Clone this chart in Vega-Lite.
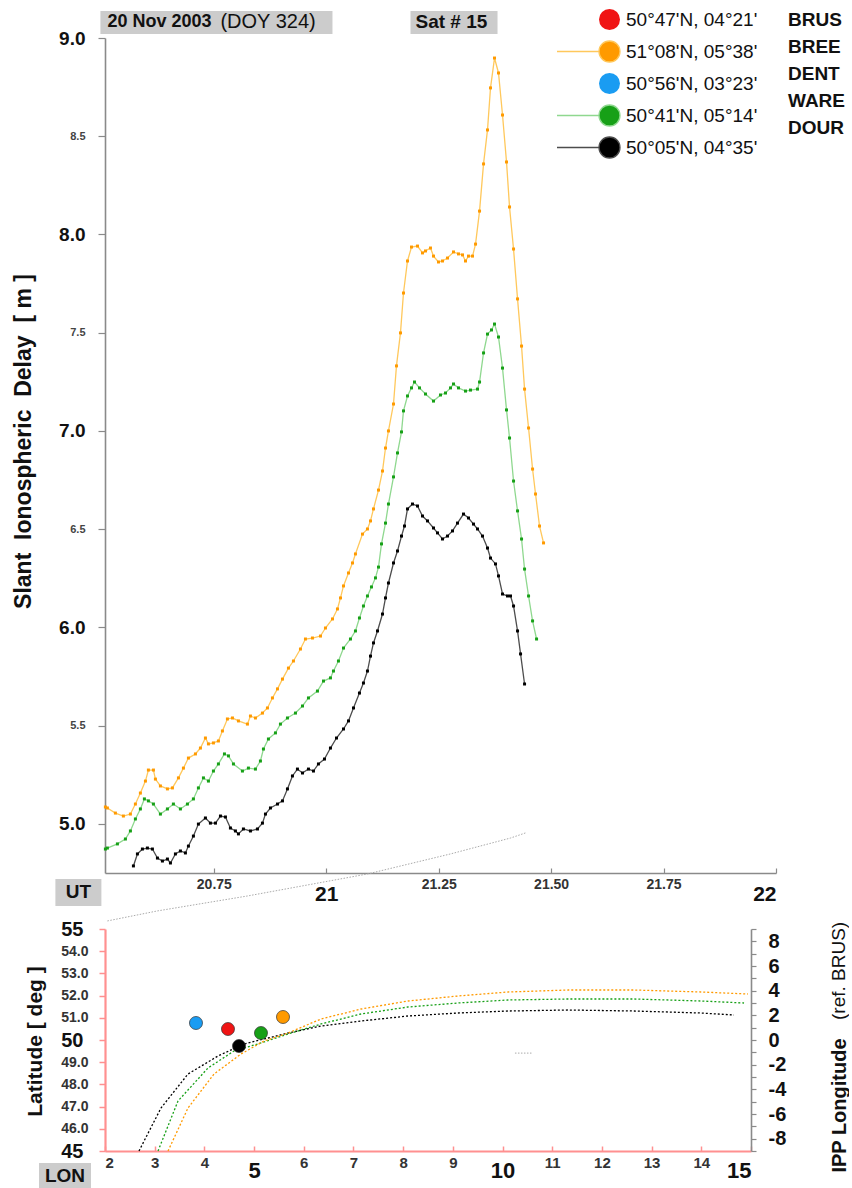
{
  "$schema": "https://vega.github.io/schema/vega-lite/v6.json",
  "background": "white",
  "padding": {"left": 12, "top": 8, "right": 0, "bottom": 0},
  "bounds": "flush",
  "spacing": 56,
  "config": {
    "font": "Liberation Sans",
    "view": {"stroke": null},
    "axis": {"grid": false, "labelFont": "Liberation Sans", "titleFont": "Liberation Sans", "labelOverlap": false},
    "legend": {"labelFont": "Liberation Sans"}
  },
  "resolve": {"scale": {"color": "independent"}, "legend": {"color": "independent"}},
  "datasets": {
    "delay": [
      {"station":"BREE","ut":20.5089,"delay":5.086},{"station":"BREE","ut":20.5133,"delay":5.081},{"station":"BREE","ut":20.5311,"delay":5.055},{"station":"BREE","ut":20.5489,"delay":5.040},{"station":"BREE","ut":20.5645,"delay":5.050},{"station":"BREE","ut":20.5756,"delay":5.101},{"station":"BREE","ut":20.5867,"delay":5.157},{"station":"BREE","ut":20.5979,"delay":5.218},{"station":"BREE","ut":20.6045,"delay":5.274},{"station":"BREE","ut":20.6157,"delay":5.274},{"station":"BREE","ut":20.6201,"delay":5.228},{"station":"BREE","ut":20.6312,"delay":5.193},{"station":"BREE","ut":20.6468,"delay":5.178},{"station":"BREE","ut":20.6579,"delay":5.183},{"station":"BREE","ut":20.6713,"delay":5.234},{"station":"BREE","ut":20.6824,"delay":5.284},{"station":"BREE","ut":20.6935,"delay":5.335},{"station":"BREE","ut":20.7091,"delay":5.356},{"station":"BREE","ut":20.7202,"delay":5.386},{"station":"BREE","ut":20.7313,"delay":5.437},{"station":"BREE","ut":20.7380,"delay":5.407},{"station":"BREE","ut":20.7491,"delay":5.412},{"station":"BREE","ut":20.7602,"delay":5.422},{"station":"BREE","ut":20.7691,"delay":5.473},{"station":"BREE","ut":20.7802,"delay":5.534},{"station":"BREE","ut":20.7914,"delay":5.539},{"station":"BREE","ut":20.8047,"delay":5.524},{"station":"BREE","ut":20.8247,"delay":5.508},{"station":"BREE","ut":20.8314,"delay":5.549},{"station":"BREE","ut":20.8425,"delay":5.539},{"station":"BREE","ut":20.8581,"delay":5.564},{"station":"BREE","ut":20.8692,"delay":5.590},{"station":"BREE","ut":20.8803,"delay":5.641},{"station":"BREE","ut":20.8915,"delay":5.687},{"station":"BREE","ut":20.9026,"delay":5.737},{"station":"BREE","ut":20.9159,"delay":5.793},{"station":"BREE","ut":20.9270,"delay":5.829},{"station":"BREE","ut":20.9426,"delay":5.890},{"station":"BREE","ut":20.9537,"delay":5.941},{"station":"BREE","ut":20.9693,"delay":5.946},{"station":"BREE","ut":20.9871,"delay":5.956},{"station":"BREE","ut":20.9982,"delay":5.997},{"station":"BREE","ut":21.0138,"delay":6.043},{"station":"BREE","ut":21.0249,"delay":6.094},{"station":"BREE","ut":21.0316,"delay":6.150},{"station":"BREE","ut":21.0383,"delay":6.211},{"station":"BREE","ut":21.0494,"delay":6.277},{"station":"BREE","ut":21.0583,"delay":6.328},{"station":"BREE","ut":21.0649,"delay":6.374},{"station":"BREE","ut":21.0805,"delay":6.475},{"station":"BREE","ut":21.0916,"delay":6.501},{"station":"BREE","ut":21.0983,"delay":6.542},{"station":"BREE","ut":21.1050,"delay":6.603},{"station":"BREE","ut":21.1161,"delay":6.699},{"station":"BREE","ut":21.1250,"delay":6.796},{"station":"BREE","ut":21.1317,"delay":6.913},{"station":"BREE","ut":21.1383,"delay":7.000},{"station":"BREE","ut":21.1495,"delay":7.137},{"station":"BREE","ut":21.1561,"delay":7.331},{"station":"BREE","ut":21.1650,"delay":7.499},{"station":"BREE","ut":21.1717,"delay":7.702},{"station":"BREE","ut":21.1806,"delay":7.865},{"station":"BREE","ut":21.1895,"delay":7.936},{"station":"BREE","ut":21.2028,"delay":7.941},{"station":"BREE","ut":21.2140,"delay":7.906},{"station":"BREE","ut":21.2206,"delay":7.916},{"station":"BREE","ut":21.2317,"delay":7.931},{"station":"BREE","ut":21.2384,"delay":7.890},{"station":"BREE","ut":21.2495,"delay":7.860},{"station":"BREE","ut":21.2584,"delay":7.865},{"station":"BREE","ut":21.2696,"delay":7.880},{"station":"BREE","ut":21.2829,"delay":7.911},{"station":"BREE","ut":21.2940,"delay":7.901},{"station":"BREE","ut":21.3029,"delay":7.896},{"station":"BREE","ut":21.3096,"delay":7.865},{"station":"BREE","ut":21.3163,"delay":7.890},{"station":"BREE","ut":21.3252,"delay":7.890},{"station":"BREE","ut":21.3319,"delay":7.951},{"station":"BREE","ut":21.3408,"delay":8.119},{"station":"BREE","ut":21.3497,"delay":8.359},{"station":"BREE","ut":21.3585,"delay":8.532},{"station":"BREE","ut":21.3652,"delay":8.746},{"station":"BREE","ut":21.3741,"delay":8.898},{"station":"BREE","ut":21.3830,"delay":8.822},{"station":"BREE","ut":21.3919,"delay":8.608},{"station":"BREE","ut":21.4008,"delay":8.369},{"station":"BREE","ut":21.4075,"delay":8.140},{"station":"BREE","ut":21.4164,"delay":7.926},{"station":"BREE","ut":21.4253,"delay":7.672},{"station":"BREE","ut":21.4342,"delay":7.432},{"station":"BREE","ut":21.4409,"delay":7.213},{"station":"BREE","ut":21.4498,"delay":7.015},{"station":"BREE","ut":21.4587,"delay":6.806},{"station":"BREE","ut":21.4653,"delay":6.679},{"station":"BREE","ut":21.4742,"delay":6.516},{"station":"BREE","ut":21.4831,"delay":6.430},
      {"station":"WARE","ut":20.5089,"delay":4.872},{"station":"WARE","ut":20.5133,"delay":4.877},{"station":"WARE","ut":20.5356,"delay":4.898},{"station":"WARE","ut":20.5534,"delay":4.923},{"station":"WARE","ut":20.5645,"delay":4.964},{"station":"WARE","ut":20.5756,"delay":5.025},{"station":"WARE","ut":20.5867,"delay":5.076},{"station":"WARE","ut":20.5956,"delay":5.127},{"station":"WARE","ut":20.6045,"delay":5.117},{"station":"WARE","ut":20.6157,"delay":5.101},{"station":"WARE","ut":20.6312,"delay":5.050},{"station":"WARE","ut":20.6468,"delay":5.076},{"station":"WARE","ut":20.6601,"delay":5.101},{"station":"WARE","ut":20.6757,"delay":5.076},{"station":"WARE","ut":20.6913,"delay":5.101},{"station":"WARE","ut":20.7046,"delay":5.127},{"station":"WARE","ut":20.7157,"delay":5.183},{"station":"WARE","ut":20.7269,"delay":5.234},{"station":"WARE","ut":20.7380,"delay":5.218},{"station":"WARE","ut":20.7491,"delay":5.269},{"station":"WARE","ut":20.7602,"delay":5.305},{"station":"WARE","ut":20.7736,"delay":5.356},{"station":"WARE","ut":20.7825,"delay":5.346},{"station":"WARE","ut":20.7936,"delay":5.305},{"station":"WARE","ut":20.8136,"delay":5.269},{"station":"WARE","ut":20.8269,"delay":5.284},{"station":"WARE","ut":20.8425,"delay":5.279},{"station":"WARE","ut":20.8536,"delay":5.320},{"station":"WARE","ut":20.8603,"delay":5.381},{"station":"WARE","ut":20.8714,"delay":5.432},{"station":"WARE","ut":20.8870,"delay":5.463},{"station":"WARE","ut":20.8981,"delay":5.508},{"station":"WARE","ut":20.9137,"delay":5.539},{"station":"WARE","ut":20.9315,"delay":5.564},{"station":"WARE","ut":20.9471,"delay":5.600},{"station":"WARE","ut":20.9604,"delay":5.641},{"station":"WARE","ut":20.9804,"delay":5.676},{"station":"WARE","ut":20.9938,"delay":5.727},{"station":"WARE","ut":21.0093,"delay":5.743},{"station":"WARE","ut":21.0160,"delay":5.778},{"station":"WARE","ut":21.0271,"delay":5.829},{"station":"WARE","ut":21.0383,"delay":5.895},{"station":"WARE","ut":21.0538,"delay":5.941},{"station":"WARE","ut":21.0649,"delay":5.982},{"station":"WARE","ut":21.0738,"delay":6.048},{"station":"WARE","ut":21.0827,"delay":6.109},{"station":"WARE","ut":21.0916,"delay":6.160},{"station":"WARE","ut":21.1005,"delay":6.206},{"station":"WARE","ut":21.1094,"delay":6.252},{"station":"WARE","ut":21.1161,"delay":6.307},{"station":"WARE","ut":21.1228,"delay":6.425},{"station":"WARE","ut":21.1317,"delay":6.531},{"station":"WARE","ut":21.1383,"delay":6.628},{"station":"WARE","ut":21.1495,"delay":6.766},{"station":"WARE","ut":21.1584,"delay":6.888},{"station":"WARE","ut":21.1673,"delay":6.995},{"station":"WARE","ut":21.1717,"delay":7.102},{"station":"WARE","ut":21.1806,"delay":7.178},{"station":"WARE","ut":21.1895,"delay":7.219},{"station":"WARE","ut":21.1962,"delay":7.249},{"station":"WARE","ut":21.2073,"delay":7.219},{"station":"WARE","ut":21.2206,"delay":7.188},{"station":"WARE","ut":21.2384,"delay":7.152},{"station":"WARE","ut":21.2540,"delay":7.183},{"station":"WARE","ut":21.2651,"delay":7.193},{"station":"WARE","ut":21.2763,"delay":7.219},{"station":"WARE","ut":21.2829,"delay":7.239},{"station":"WARE","ut":21.2940,"delay":7.219},{"station":"WARE","ut":21.3096,"delay":7.203},{"station":"WARE","ut":21.3207,"delay":7.208},{"station":"WARE","ut":21.3363,"delay":7.213},{"station":"WARE","ut":21.3408,"delay":7.249},{"station":"WARE","ut":21.3497,"delay":7.397},{"station":"WARE","ut":21.3585,"delay":7.493},{"station":"WARE","ut":21.3674,"delay":7.514},{"station":"WARE","ut":21.3741,"delay":7.544},{"station":"WARE","ut":21.3830,"delay":7.478},{"station":"WARE","ut":21.3919,"delay":7.320},{"station":"WARE","ut":21.4008,"delay":7.107},{"station":"WARE","ut":21.4075,"delay":6.964},{"station":"WARE","ut":21.4164,"delay":6.745},{"station":"WARE","ut":21.4253,"delay":6.593},{"station":"WARE","ut":21.4342,"delay":6.450},{"station":"WARE","ut":21.4409,"delay":6.297},{"station":"WARE","ut":21.4498,"delay":6.160},{"station":"WARE","ut":21.4587,"delay":6.033},{"station":"WARE","ut":21.4676,"delay":5.941},
      {"station":"DOUR","ut":20.5712,"delay":4.786},{"station":"DOUR","ut":20.5801,"delay":4.847},{"station":"DOUR","ut":20.5912,"delay":4.872},{"station":"DOUR","ut":20.6023,"delay":4.877},{"station":"DOUR","ut":20.6134,"delay":4.872},{"station":"DOUR","ut":20.6246,"delay":4.826},{"station":"DOUR","ut":20.6357,"delay":4.811},{"station":"DOUR","ut":20.6468,"delay":4.821},{"station":"DOUR","ut":20.6535,"delay":4.801},{"station":"DOUR","ut":20.6646,"delay":4.847},{"station":"DOUR","ut":20.6757,"delay":4.862},{"station":"DOUR","ut":20.6868,"delay":4.852},{"station":"DOUR","ut":20.6935,"delay":4.887},{"station":"DOUR","ut":20.7046,"delay":4.938},{"station":"DOUR","ut":20.7157,"delay":4.999},{"station":"DOUR","ut":20.7313,"delay":5.030},{"station":"DOUR","ut":20.7424,"delay":5.004},{"station":"DOUR","ut":20.7536,"delay":5.004},{"station":"DOUR","ut":20.7647,"delay":5.040},{"station":"DOUR","ut":20.7758,"delay":5.035},{"station":"DOUR","ut":20.7869,"delay":4.979},{"station":"DOUR","ut":20.7980,"delay":4.964},{"station":"DOUR","ut":20.8047,"delay":4.949},{"station":"DOUR","ut":20.8158,"delay":4.974},{"station":"DOUR","ut":20.8314,"delay":4.964},{"station":"DOUR","ut":20.8470,"delay":4.974},{"station":"DOUR","ut":20.8581,"delay":5.004},{"station":"DOUR","ut":20.8648,"delay":5.050},{"station":"DOUR","ut":20.8759,"delay":5.081},{"station":"DOUR","ut":20.8915,"delay":5.101},{"station":"DOUR","ut":20.9026,"delay":5.117},{"station":"DOUR","ut":20.9137,"delay":5.178},{"station":"DOUR","ut":20.9248,"delay":5.244},{"station":"DOUR","ut":20.9359,"delay":5.279},{"station":"DOUR","ut":20.9471,"delay":5.259},{"station":"DOUR","ut":20.9604,"delay":5.279},{"station":"DOUR","ut":20.9715,"delay":5.269},{"station":"DOUR","ut":20.9826,"delay":5.305},{"station":"DOUR","ut":20.9960,"delay":5.330},{"station":"DOUR","ut":21.0093,"delay":5.386},{"station":"DOUR","ut":21.0227,"delay":5.437},{"station":"DOUR","ut":21.0383,"delay":5.483},{"station":"DOUR","ut":21.0494,"delay":5.524},{"station":"DOUR","ut":21.0605,"delay":5.590},{"station":"DOUR","ut":21.0738,"delay":5.666},{"station":"DOUR","ut":21.0827,"delay":5.717},{"station":"DOUR","ut":21.0916,"delay":5.778},{"station":"DOUR","ut":21.0983,"delay":5.854},{"station":"DOUR","ut":21.1050,"delay":5.921},{"station":"DOUR","ut":21.1139,"delay":5.982},{"station":"DOUR","ut":21.1250,"delay":6.068},{"station":"DOUR","ut":21.1317,"delay":6.150},{"station":"DOUR","ut":21.1383,"delay":6.226},{"station":"DOUR","ut":21.1495,"delay":6.328},{"station":"DOUR","ut":21.1584,"delay":6.389},{"station":"DOUR","ut":21.1673,"delay":6.465},{"station":"DOUR","ut":21.1739,"delay":6.516},{"station":"DOUR","ut":21.1806,"delay":6.603},{"station":"DOUR","ut":21.1917,"delay":6.628},{"station":"DOUR","ut":21.2028,"delay":6.618},{"station":"DOUR","ut":21.2140,"delay":6.567},{"station":"DOUR","ut":21.2251,"delay":6.542},{"station":"DOUR","ut":21.2384,"delay":6.506},{"station":"DOUR","ut":21.2473,"delay":6.481},{"station":"DOUR","ut":21.2584,"delay":6.450},{"station":"DOUR","ut":21.2696,"delay":6.465},{"station":"DOUR","ut":21.2807,"delay":6.491},{"station":"DOUR","ut":21.2918,"delay":6.531},{"station":"DOUR","ut":21.3051,"delay":6.577},{"station":"DOUR","ut":21.3163,"delay":6.557},{"station":"DOUR","ut":21.3274,"delay":6.526},{"station":"DOUR","ut":21.3363,"delay":6.501},{"station":"DOUR","ut":21.3474,"delay":6.465},{"station":"DOUR","ut":21.3585,"delay":6.404},{"station":"DOUR","ut":21.3652,"delay":6.353},{"station":"DOUR","ut":21.3763,"delay":6.323},{"station":"DOUR","ut":21.3830,"delay":6.262},{"station":"DOUR","ut":21.3919,"delay":6.170},{"station":"DOUR","ut":21.4030,"delay":6.160},{"station":"DOUR","ut":21.4097,"delay":6.160},{"station":"DOUR","ut":21.4164,"delay":6.109},{"station":"DOUR","ut":21.4253,"delay":5.982},{"station":"DOUR","ut":21.4320,"delay":5.865},{"station":"DOUR","ut":21.4409,"delay":5.712}
    ],
    "trace": [
      {"ut":20.5133,"delay":4.506},{"ut":20.6246,"delay":4.557},{"ut":20.8247,"delay":4.633},{"ut":21.0916,"delay":4.745},{"ut":21.2762,"delay":4.847},{"ut":21.4097,"delay":4.928},{"ut":21.4431,"delay":4.954}
    ],
    "stations": [
      {"station":"BRUS","lon":4.475,"lat":50.495},
      {"station":"BREE","lon":5.582,"lat":51.036},
      {"station":"DENT","lon":3.831,"lat":50.766},
      {"station":"WARE","lon":5.139,"lat":50.315},
      {"station":"DOUR","lon":4.697,"lat":49.730}
    ],
    "ipp": [
      {"station":"DOUR","lon":2.684,"lat":45.0},{"station":"DOUR","lon":3.127,"lat":46.937},{"station":"DOUR","lon":3.670,"lat":48.468},{"station":"DOUR","lon":4.274,"lat":49.279},{"station":"DOUR","lon":4.797,"lat":49.820},{"station":"DOUR","lon":5.280,"lat":50.090},{"station":"DOUR","lon":5.683,"lat":50.315},{"station":"DOUR","lon":6.347,"lat":50.631},{"station":"DOUR","lon":7.152,"lat":50.856},{"station":"DOUR","lon":8.098,"lat":51.081},{"station":"DOUR","lon":9.104,"lat":51.216},{"station":"DOUR","lon":10.110,"lat":51.306},{"station":"DOUR","lon":11.318,"lat":51.351},{"station":"DOUR","lon":12.646,"lat":51.306},{"station":"DOUR","lon":13.994,"lat":51.216},{"station":"DOUR","lon":14.658,"lat":51.126},
      {"station":"WARE","lon":3.067,"lat":45.0},{"station":"WARE","lon":3.469,"lat":47.252},{"station":"WARE","lon":4.073,"lat":48.739},{"station":"WARE","lon":4.596,"lat":49.505},{"station":"WARE","lon":5.139,"lat":49.865},{"station":"WARE","lon":5.683,"lat":50.270},{"station":"WARE","lon":6.347,"lat":50.721},{"station":"WARE","lon":7.152,"lat":51.171},{"station":"WARE","lon":8.098,"lat":51.486},{"station":"WARE","lon":9.104,"lat":51.667},{"station":"WARE","lon":10.110,"lat":51.802},{"station":"WARE","lon":11.318,"lat":51.847},{"station":"WARE","lon":12.646,"lat":51.847},{"station":"WARE","lon":13.994,"lat":51.757},{"station":"WARE","lon":14.860,"lat":51.667},
      {"station":"BREE","lon":3.268,"lat":45.0},{"station":"BREE","lon":3.670,"lat":46.937},{"station":"BREE","lon":4.194,"lat":48.468},{"station":"BREE","lon":4.737,"lat":49.369},{"station":"BREE","lon":5.200,"lat":49.955},{"station":"BREE","lon":5.683,"lat":50.315},{"station":"BREE","lon":6.347,"lat":50.946},{"station":"BREE","lon":7.152,"lat":51.396},{"station":"BREE","lon":8.098,"lat":51.757},{"station":"BREE","lon":9.104,"lat":51.982},{"station":"BREE","lon":10.110,"lat":52.162},{"station":"BREE","lon":11.318,"lat":52.252},{"station":"BREE","lon":12.646,"lat":52.252},{"station":"BREE","lon":13.994,"lat":52.162},{"station":"BREE","lon":14.940,"lat":52.072}
    ],
    "ipp_stray": [
      {"lon":10.25,"lat":49.41},{"lon":10.61,"lat":49.41}
    ]
  },
  "vconcat": [
    {
      "width": 671,
      "height": 835,
      "layer": [
        {
          "data": {"name": "delay"},
          "mark": {"type": "line", "strokeWidth": 1.3},
          "encoding": {
            "x": {
              "field": "ut", "type": "quantitative",
              "scale": {"domain": [20.508, 22], "nice": false, "zero": false},
              "axis": {
                "title": null,
                "values": [20.75, 21, 21.25, 21.5, 21.75, 22],
                "tickCount": 100,
                "labelExpr": "datum.value % 1 == 0 ? format(datum.value, 'd') : format(datum.value, '.2f')",
                "labelFontSize": {"condition": {"test": "datum.value % 1 == 0", "value": 21}, "value": 14},
                "labelFontWeight": "bold",
                "labelColor": {"condition": {"test": "datum.value % 1 == 0", "value": "#111111"}, "value": "#333333"},
                "labelPadding": {"condition": {"test": "datum.value % 1 == 0", "value": 15}, "value": 9},
                "labelOverlap": false,
                "tickSize": -5,
                "tickColor": "#8a8a8a",
                "tickWidth": 1.2,
                "domainColor": "#8a8a8a",
                "domainWidth": 1.6
              }
            },
            "y": {
              "field": "delay", "type": "quantitative",
              "scale": {"domain": [4.75, 9], "nice": false, "zero": false},
              "axis": {
                "values": [5, 5.5, 6, 6.5, 7, 7.5, 8, 8.5, 9],
                "tickCount": 100,
                "labelExpr": "format(datum.value, '.1f')",
                "labelFontSize": {"condition": {"test": "datum.value % 1 == 0", "value": 19}, "value": 11},
                "labelFontWeight": "bold",
                "labelColor": {"condition": {"test": "datum.value % 1 == 0", "value": "#111111"}, "value": "#444444"},
                "labelPadding": 13,
                "labelOverlap": false,
                "tickSize": 7,
                "tickColor": "#8a8a8a",
                "tickWidth": 1.2,
                "domainColor": "#8a8a8a",
                "domainWidth": 1.6,
                "title": "Slant\u00a0\u00a0Ionospheric\u00a0\u00a0Delay\u00a0\u00a0[\u00a0m\u00a0]",
                "titleFontSize": 23,
                "titleFontWeight": "bold",
                "titleColor": "#111111",
                "titleX": -82,
                "titleY": 403,
                "titleAngle": 270,
                "titleAlign": "center",
                "titleBaseline": "middle"
              }
            },
            "stroke": {
              "field": "station", "type": "nominal",
              "scale": {"domain": ["BREE", "WARE", "DOUR"], "range": ["#ffc85c", "#8fd88f", "#4d4d4d"]},
              "legend": null
            }
          }
        },
        {
          "data": {"name": "delay"},
          "mark": {"type": "point", "filled": true, "shape": "square", "size": 9, "opacity": 1},
          "encoding": {
            "x": {"field": "ut", "type": "quantitative"},
            "y": {"field": "delay", "type": "quantitative"},
            "color": {
              "field": "station", "type": "nominal",
              "scale": {"domain": ["BRUS", "BREE", "DENT", "WARE", "DOUR"], "range": ["#f01414", "#ff9a00", "#1a9cf2", "#17a017", "#000000"]},
              "legend": {
                "orient": "none",
                "legendX": 493,
                "legendY": -30,
                "title": null,
                "padding": 0,
                "symbolType": "circle",
                "symbolSize": 441,
                "symbolStrokeWidth": 0,
                "symbolOpacity": 1,
                "labelFontSize": 19,
                "labelColor": "#111111",
                "labelOffset": 5,
                "labelLimit": 300,
                "rowPadding": 5,
                "labelExpr": "datum.label == 'BRUS' ? \"50°47'N, 04°21'\" : datum.label == 'BREE' ? \"51°08'N, 05°38'\" : datum.label == 'DENT' ? \"50°56'N, 03°23'\" : datum.label == 'WARE' ? \"50°41'N, 05°14'\" : \"50°05'N, 04°35'\"",
                "encode": {
                  "symbols": {
                    "update": {
                      "shape": {"signal": "indexof(['BREE','WARE','DOUR'], datum.value) >= 0 ? 'M-5,0H-1M1,0A1,1,0,1,1,-1,0A1,1,0,1,1,1,0Z' : 'circle'"},
                      "stroke": {"signal": "datum.value == 'BREE' ? '#ffc85c' : datum.value == 'WARE' ? '#8fd88f' : datum.value == 'DOUR' ? '#4d4d4d' : 'transparent'"},
                      "strokeWidth": {"value": 1.3}
                    }
                  }
                }
              }
            }
          }
        },
        {
          "data": {"name": "trace"},
          "mark": {"type": "line", "color": "#aaaaaa", "strokeWidth": 1, "strokeDash": [1.5, 1.5]},
          "encoding": {
            "x": {"field": "ut", "type": "quantitative"},
            "y": {"field": "delay", "type": "quantitative"}
          }
        },
        {
          "data": {"values": [{}]},
          "mark": {"type": "rect", "fill": "#cccccc"},
          "encoding": {"x": {"datum": 20.4978}, "x2": {"datum": 21.0138}, "y": {"datum": 9.137}, "y2": {"datum": 9.020}}
        },
        {
          "data": {"values": [{}]},
          "mark": {"type": "rect", "fill": "#cccccc"},
          "encoding": {"x": {"datum": 21.1873}, "x2": {"datum": 21.3808}, "y": {"datum": 9.137}, "y2": {"datum": 9.020}}
        },
        {
          "data": {"values": [{}]},
          "mark": {"type": "rect", "fill": "#cccccc"},
          "encoding": {"x": {"datum": 20.3977}, "x2": {"datum": 20.5}, "y": {"datum": 4.7196}, "y2": {"datum": 4.5822}}
        },
        {
          "data": {"values": [{}]},
          "mark": {"type": "text", "text": "20 Nov 2003", "align": "left", "baseline": "middle", "fontSize": 18, "fontWeight": "bold", "color": "#111111"},
          "encoding": {"x": {"datum": 20.5133}, "y": {"datum": 9.079}}
        },
        {
          "data": {"values": [{}]},
          "mark": {"type": "text", "text": "(DOY 324)", "align": "left", "baseline": "middle", "fontSize": 20, "color": "#111111"},
          "encoding": {"x": {"datum": 20.7647}, "y": {"datum": 9.079}}
        },
        {
          "data": {"values": [{}]},
          "mark": {"type": "text", "text": "Sat # 15", "align": "left", "baseline": "middle", "fontSize": 19, "fontWeight": "bold", "color": "#111111"},
          "encoding": {"x": {"datum": 21.1984}, "y": {"datum": 9.079}}
        },
        {
          "data": {"values": [{}]},
          "mark": {"type": "text", "text": "UT", "align": "center", "baseline": "middle", "fontSize": 19, "fontWeight": "bold", "color": "#111111"},
          "encoding": {"x": {"datum": 20.4488}, "y": {"datum": 4.6508}}
        }
      ]
    },
    {
      "width": 646,
      "height": 222,
      "layer": [
        {
          "layer": [
            {
              "data": {"name": "ipp"},
              "mark": {"type": "line", "strokeWidth": 1.3, "strokeDash": [2, 2]},
              "encoding": {
                "x": {
                  "field": "lon", "type": "quantitative",
                  "scale": {"domain": [2, 15], "nice": false, "zero": false},
                  "axis": {
                    "title": null,
                    "values": [2, 3, 4, 5, 6, 7, 8, 9, 10, 11, 12, 13, 14, 15],
                    "tickCount": 100,
                    "labelExpr": "format(datum.value, 'd')",
                    "labelFontSize": {"condition": {"test": "datum.value % 5 == 0", "value": 22}, "value": 15},
                    "labelFontWeight": "bold",
                    "labelColor": {"condition": {"test": "datum.value % 5 == 0", "value": "#111111"}, "value": "#333333"},
                    "labelPadding": {"condition": {"test": "datum.value % 5 == 0", "value": 14}, "value": 9},
                    "labelOverlap": false,
                    "labelBound": false,
                    "tickSize": -5,
                    "tickColor": "#ff9090",
                    "tickWidth": 1.5,
                    "domainColor": "#ff9090",
                    "domainWidth": 2.2
                  }
                },
                "y": {
                  "field": "lat", "type": "quantitative",
                  "scale": {"domain": [45, 55], "nice": false, "zero": false},
                  "axis": {
                    "values": [45, 46, 47, 48, 49, 50, 51, 52, 53, 54, 55],
                    "tickCount": 100,
                    "labelExpr": "datum.value % 5 == 0 ? format(datum.value, 'd') : format(datum.value, '.1f')",
                    "labelFontSize": {"condition": {"test": "datum.value % 5 == 0", "value": 20}, "value": 14},
                    "labelFontWeight": "bold",
                    "labelColor": {"condition": {"test": "datum.value % 5 == 0", "value": "#111111"}, "value": "#333333"},
                    "labelPadding": {"condition": {"test": "datum.value % 5 == 0", "value": 16}, "value": 11},
                    "labelOverlap": false,
                    "labelBound": false,
                    "tickSize": 6,
                    "tickColor": "#ff9090",
                    "tickWidth": 1.5,
                    "domainColor": "#ff9090",
                    "domainWidth": 2.2,
                    "title": "Latitude [ deg ]",
                    "titleFontSize": 21,
                    "titleFontWeight": "bold",
                    "titleColor": "#111111",
                    "titleX": -70,
                    "titleY": 112,
                    "titleAngle": 270,
                    "titleAlign": "center",
                    "titleBaseline": "middle"
                  }
                },
                "color": {
                  "field": "station", "type": "nominal",
                  "scale": {"domain": ["BRUS", "BREE", "DENT", "WARE", "DOUR"], "range": ["#f01414", "#ff9a00", "#1a9cf2", "#17a017", "#000000"]},
                  "legend": null
                }
              }
            },
            {
              "data": {"name": "ipp_stray"},
              "mark": {"type": "line", "color": "#aaaaaa", "strokeWidth": 1, "strokeDash": [1.5, 1.5]},
              "encoding": {
                "x": {"field": "lon", "type": "quantitative"},
                "y": {"field": "lat", "type": "quantitative"}
              }
            },
            {
              "data": {"name": "stations"},
              "mark": {"type": "point", "filled": true, "size": 170, "stroke": "#333333", "strokeWidth": 0.7, "opacity": 1},
              "encoding": {
                "x": {"field": "lon", "type": "quantitative"},
                "y": {"field": "lat", "type": "quantitative"},
                "color": {"field": "station", "type": "nominal", "legend": null},
                "shape": {
                  "field": "station", "type": "nominal",
                  "sort": ["BRUS", "BREE", "DENT", "WARE", "DOUR"],
                  "scale": {"range": ["circle", "circle", "circle", "circle", "circle"]},
                  "legend": {
                    "orient": "none",
                    "legendX": 655,
                    "legendY": -30,
                    "title": null,
                    "padding": 0,
                    "symbolSize": 441,
                    "symbolOpacity": 0,
                    "labelFontSize": 19,
                    "labelFontWeight": "bold",
                    "labelColor": "#111111",
                    "labelOffset": 5,
                    "rowPadding": 5
                  }
                }
              }
            },
            {
              "data": {"values": [{}]},
              "mark": {"type": "rect", "fill": "#cccccc"},
              "encoding": {"x": {"datum": 0.672}, "x2": {"datum": 1.718}, "y": {"datum": 44.459}, "y2": {"datum": 43.333}}
            },
            {
              "data": {"values": [{}]},
              "mark": {"type": "text", "text": "LON", "align": "center", "baseline": "middle", "fontSize": 19, "fontWeight": "bold", "color": "#111111"},
              "encoding": {"x": {"datum": 1.195}, "y": {"datum": 43.896}}
            }
          ]
        },
        {
          "data": {"values": [{}]},
          "mark": {"type": "text", "text": "(ref. BRUS)", "align": "center", "baseline": "middle", "fontSize": 19, "angle": 270, "color": "#111111"},
          "encoding": {
            "x": {"datum": 16.77},
            "y": {
              "datum": 5.6,
              "scale": {"domain": [-9, 9], "nice": false, "zero": false},
              "axis": {
                "orient": "right",
                "values": [-9, -8, -7, -6, -5, -4, -3, -2, -1, 0, 1, 2, 3, 4, 5, 6, 7, 8, 9],
                "tickCount": 100,
                "labelExpr": "datum.value % 2 == 0 ? (datum.value < 0 ? '-' + abs(datum.value) : '' + datum.value) : ''",
                "labelFontSize": 20,
                "labelFontWeight": "bold",
                "labelColor": "#111111",
                "labelPadding": 12,
                "labelOverlap": false,
                "tickSize": 5,
                "tickColor": "#8a8a8a",
                "tickWidth": 1.2,
                "domainColor": "#8a8a8a",
                "domainWidth": 1.6,
                "title": "IPP Longitude",
                "titleFontSize": 20,
                "titleFontWeight": "bold",
                "titleColor": "#111111",
                "titleX": 88,
                "titleY": 176,
                "titleAngle": 270,
                "titleAlign": "center",
                "titleBaseline": "middle"
              }
            }
          }
        }
      ],
      "resolve": {"scale": {"y": "independent"}}
    }
  ]
}
